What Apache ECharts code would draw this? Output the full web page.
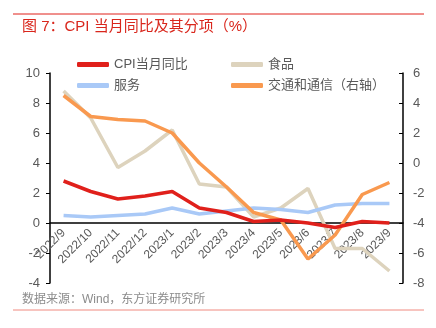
<!DOCTYPE html>
<html><head><meta charset="utf-8">
<script src="https://cdn.jsdelivr.net/npm/echarts@6/dist/echarts.min.js"></script>
<style>html,body{margin:0;padding:0;background:#fff}#c{width:436px;height:328px}</style>
</head><body><div id="c"></div>
<script>
const categories = ['2022/9','2022/10','2022/11','2022/12','2023/1','2023/2','2023/3','2023/4','2023/5','2023/6','2023/7','2023/8','2023/9'];
const cpi = [2.8, 2.1, 1.6, 1.8, 2.1, 1.0, 0.7, 0.1, 0.2, 0.0, -0.3, 0.1, 0.0];
const food = [8.8, 7.0, 3.7, 4.8, 6.2, 2.6, 2.4, 0.4, 1.0, 2.3, -1.7, -1.7, -3.2];
const services = [0.5, 0.4, 0.5, 0.6, 1.0, 0.6, 0.8, 1.0, 0.9, 0.7, 1.2, 1.3, 1.3];
const transport = [4.5, 3.1, 2.9, 2.8, 2.0, 0.0, -1.6, -3.3, -3.8, -6.4, -4.8, -2.1, -1.3];
const leftTicks = {min: -4, max: 10, interval: 2};
const rightTicks = {min: -8, max: 6, interval: 2};

const FF = '"Liberation Sans", "Noto Sans CJK SC", sans-serif';
const chart = echarts.init(document.getElementById('c'));
const lineSeries = (name, data, color, yIdx, z) => ({
  name, type: 'line', data, yAxisIndex: yIdx, symbol: 'none', z,
  lineStyle: {color, width: 3.5}, itemStyle: {color}
});
const gridTop = 73, gridBottom = 45, H = 328;
const plotH = H - gridTop - gridBottom;
const zeroOffset = -plotH * (0 - leftTicks.min) / (leftTicks.max - leftTicks.min);
chart.setOption({
  animation: false,
  textStyle: {fontFamily: FF},
  grid: {left: 50, right: 33, top: gridTop, bottom: gridBottom},
  graphic: [
    {type: 'line', shape: {x1: 13, y1: 14, x2: 424, y2: 14}, style: {stroke: '#e0201b', lineWidth: 1}},
    {type: 'text', left: 22, top: 19, style: {text: '图 7：CPI 当月同比及其分项（%）', fill: '#d9261c', font: '15px "Liberation Sans", "Noto Sans CJK SC"'}},
    {type: 'text', left: 22, top: 294, style: {text: '数据来源：Wind，东方证券研究所', fill: '#8c8c8c', font: '12px "Liberation Sans", "Noto Sans CJK SC"'}},
    {type: 'line', shape: {x1: 13, y1: 310, x2: 424, y2: 310}, style: {stroke: '#f08a80', lineWidth: 1}}
  ],
  legend: [
    {data: ['CPI当月同比', '服务'], orient: 'vertical', left: 72, top: 53, itemGap: 8, itemWidth: 32, itemHeight: 5,
     icon: 'roundRect', textStyle: {color: '#595959', fontSize: 13, fontFamily: FF}},
    {data: ['食品', '交通和通信（右轴）'], orient: 'vertical', left: 226, top: 53, itemGap: 8, itemWidth: 32, itemHeight: 5,
     icon: 'roundRect', textStyle: {color: '#595959', fontSize: 13, fontFamily: FF}}
  ],
  xAxis: {
    type: 'category', data: categories, boundaryGap: true, position: 'bottom', offset: zeroOffset,
    axisLine: {onZero: false, lineStyle: {color: '#000', width: 1.5}},
    axisTick: {inside: true, length: 5, lineStyle: {color: '#000'}},
    axisLabel: {rotate: 45, interval: 0, color: '#595959', fontSize: 12, margin: 8, fontFamily: FF, hideOverlap: false}
  },
  yAxis: [
    {type: 'value', min: leftTicks.min, max: leftTicks.max, interval: leftTicks.interval, splitLine: {show: false},
     axisLine: {show: true, lineStyle: {color: '#000', width: 1.5}}, axisTick: {show: true, length: 4, lineStyle: {color: '#000'}},
     axisLabel: {color: '#595959', fontSize: 13, margin: 10, fontFamily: FF}},
    {type: 'value', min: rightTicks.min, max: rightTicks.max, interval: rightTicks.interval, splitLine: {show: false}, position: 'right',
     axisLine: {show: true, lineStyle: {color: '#000', width: 1.5}}, axisTick: {show: true, inside: true, length: 4, lineStyle: {color: '#000'}},
     axisLabel: {color: '#595959', fontSize: 13, margin: 10, fontFamily: FF}}
  ],
  series: [
    lineSeries('CPI当月同比', cpi, '#e0201b', 0, 5),
    lineSeries('食品', food, '#ddd3bd', 0, 2),
    lineSeries('服务', services, '#a9c9f7', 0, 3),
    lineSeries('交通和通信（右轴）', transport, '#f9994f', 1, 4)
  ]
});
</script></body></html>
